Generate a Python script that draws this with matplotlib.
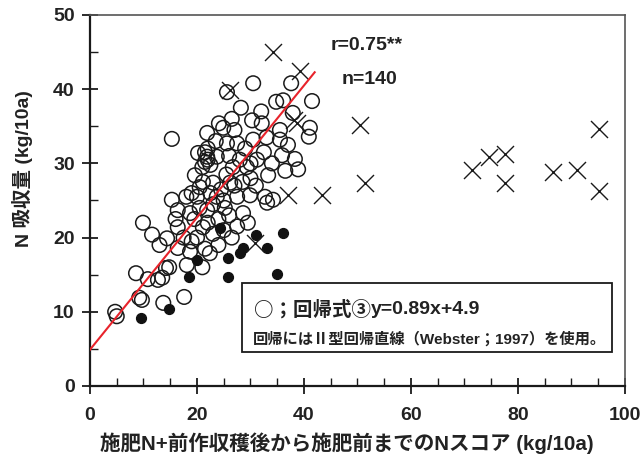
"""N uptake vs N score scatter with type II regression line."""
import matplotlib
matplotlib.use("Agg")
import matplotlib.pyplot as plt
from matplotlib.patches import Rectangle
from matplotlib.ticker import MultipleLocator

plt.rcParams['font.family'] = ['Liberation Sans', 'Noto Sans CJK JP']

# open circles: used for regression
open_x = [4.7, 5.0, 8.6, 9.2, 9.7, 9.9, 10.8, 11.6, 12.7, 13.5, 13.7, 14.2,
          14.8, 14.4, 15.3, 15.3, 16.4, 16.4, 16.4, 17.6, 18.1, 18.7, 18.7,
          19.6, 20.0, 20.2, 21.1, 21.1, 21.5, 21.9, 21.9, 21.9, 22.4, 23.0,
          23.7, 23.7, 24.1, 24.9, 25.2, 25.6, 25.6, 26.2, 26.7, 27.5, 27.5,
          28.2, 28.6, 29.3, 29.9, 30.3, 30.5, 30.5, 31.2, 32.1, 32.7, 33.1,
          33.3, 34.2, 34.8, 35.5, 35.5, 35.9, 36.1, 37.6, 37.9, 38.3, 38.9,
          40.9, 41.1, 41.5, 19.0, 20.5, 21.0, 21.5, 22.0, 22.5, 20.5, 22.0,
          23.0, 24.0, 25.0, 26.0, 26.5, 24.5, 25.5, 27.0, 28.0, 28.5, 29.0,
          30.0, 31.0, 26.0, 27.0, 23.5, 22.5, 19.5, 17.5, 18.0, 24.0, 21.5,
          32.5, 33.0, 34.0, 36.5, 37.0, 32.0, 29.5, 27.5, 23.0, 20.0, 16.0,
          25.0, 30.0, 22.0, 26.5, 19.0, 13.0, 21.0]
open_y = [10.0, 9.4, 15.2, 11.9, 11.6, 22.0, 14.4, 20.4, 14.3, 14.6, 11.2,
          15.9, 16.0, 19.9, 33.3, 25.1, 18.6, 21.4, 23.7, 12.0, 16.3, 18.1,
          23.3, 28.4, 25.5, 31.4, 27.5, 21.4, 30.2, 30.9, 34.1, 23.7, 17.9,
          27.4, 30.9, 25.5, 35.4, 34.8, 24.0, 32.7, 39.6, 27.4, 29.5, 32.7,
          25.5, 37.5, 23.3, 29.5, 25.7, 35.8, 33.2, 40.8, 30.5, 35.4, 25.5,
          24.7, 28.4, 25.1, 38.3, 34.5, 33.2, 31.1, 38.5, 40.8, 36.8, 30.6,
          29.2, 33.6, 34.8, 38.4, 26.0, 26.8, 29.5, 31.5, 30.5, 29.8, 24.0,
          22.0, 20.5, 22.5, 21.0, 23.0, 20.0, 26.5, 28.5, 27.0, 30.5, 27.5,
          32.0, 28.0, 27.0, 31.0, 34.5, 33.0, 26.0, 22.5, 20.0, 25.5, 19.0,
          18.5, 31.5, 33.5, 30.0, 29.0, 32.5, 37.0, 22.0, 21.5, 24.5, 20.0,
          22.5, 25.0, 30.0, 32.0, 36.0, 19.5, 19.0, 16.0]

# filled circles
fill_x = [24.3, 31.0, 36.1, 28.6, 33.1, 28.0, 25.8, 20.0, 25.8, 35.0, 18.5,
          14.8, 9.5]
fill_y = [21.3, 20.3, 20.6, 18.6, 18.6, 17.9, 17.2, 17.0, 14.7, 15.1, 14.7,
          10.4, 9.2]

# crosses
cross_x = [34.2, 39.3, 26.2, 38.7, 38.2, 37.0, 43.4, 50.5, 51.4, 71.4, 74.6,
           77.6, 77.6, 86.5, 91.0, 95.1, 95.1, 30.8]
cross_y = [45.0, 42.5, 39.9, 35.4, 35.8, 25.7, 25.7, 35.2, 27.4, 29.1, 30.9,
           31.3, 27.4, 28.8, 29.1, 34.6, 26.3, 19.3]

# regression y = 0.89x + 4.9
slope = 0.89
intercept = 4.9
line_x = [0, 42]

fig = plt.figure(figsize=(6.41, 4.61), dpi=100)
ax = fig.add_axes([0.1404, 0.1627, 0.8346, 0.8048])

ax.scatter(open_x, open_y, s=110, facecolors='none', edgecolors='#1a1a1a',
           linewidths=1.1, zorder=3)
ax.scatter(fill_x, fill_y, s=50, color='#111111', zorder=3)
ax.scatter(cross_x, cross_y, s=150, marker='x', color='#1a1a1a',
           linewidths=1.0, zorder=3)
ax.plot(line_x, [slope * v + intercept for v in line_x], color='#e8232b',
        lw=1.5, zorder=4)

ax.set_xlim(0, 100)
ax.set_ylim(0, 50)
ax.xaxis.set_major_locator(MultipleLocator(20))
ax.xaxis.set_minor_locator(MultipleLocator(5))
ax.yaxis.set_major_locator(MultipleLocator(10))
ax.yaxis.set_minor_locator(MultipleLocator(5))
ax.tick_params(which='major', direction='inout', length=12, width=1.3,
               labelsize=14, pad=5, color='#1a1a1a')
ax.tick_params(which='minor', direction='in', length=6, width=1.0,
               color='#1a1a1a')
ax.tick_params(axis='x', which='major', pad=9)
for lab in ax.get_xticklabels() + ax.get_yticklabels():
    lab.set_fontweight('bold')
    lab.set_color('#222222')

for side in ['left', 'bottom']:
    ax.spines[side].set_linewidth(1.6)
    ax.spines[side].set_color('#1a1a1a')
for side in ['top', 'right']:
    ax.spines[side].set_linewidth(1.2)
    ax.spines[side].set_color('#555555')

ax.set_xlabel('施肥N+前作収穫後から施肥前までのNスコア (kg/10a)', fontsize=14.8,
              fontweight='bold', color='#222222')
ax.set_ylabel('N 吸収量 (kg/10a)', fontsize=14, fontweight='bold',
              color='#222222')
ax.xaxis.set_label_coords(0.48, -0.126)
ax.yaxis.set_label_coords(-0.107, 0.585)

ax.text(0.449, 0.919, 'r=0.75**', transform=ax.transAxes, fontsize=14,
        fontweight='bold', va='center', ha='left', color='#222222')
ax.text(0.471, 0.825, 'n=140', transform=ax.transAxes, fontsize=14,
        fontweight='bold', va='center', ha='left', color='#222222')

box = Rectangle((0.284, 0.0916), 0.6917, 0.186, transform=ax.transAxes,
                facecolor='white', edgecolor='#1a1a1a', lw=1.3, zorder=5)
ax.add_patch(box)
t1 = ax.text(0.306, 0.205, '○；回帰式③', transform=ax.transAxes,
             fontsize=14, fontweight='bold', va='center', ha='left',
             family=['Noto Sans CJK JP'], color='#222222', zorder=6)
ax.annotate('y=0.89x+4.9', xy=(1.0, 0.5), xycoords=t1, va='center',
            ha='left', fontsize=14, fontweight='bold', color='#222222',
            zorder=6)
ax.text(0.304, 0.127, '回帰にはⅡ型回帰直線（Webster；1997）を使用。',
        transform=ax.transAxes, fontsize=11, fontweight='bold', va='center',
        ha='left', color='#222222', zorder=6)

fig.savefig('out.png', dpi=100)
